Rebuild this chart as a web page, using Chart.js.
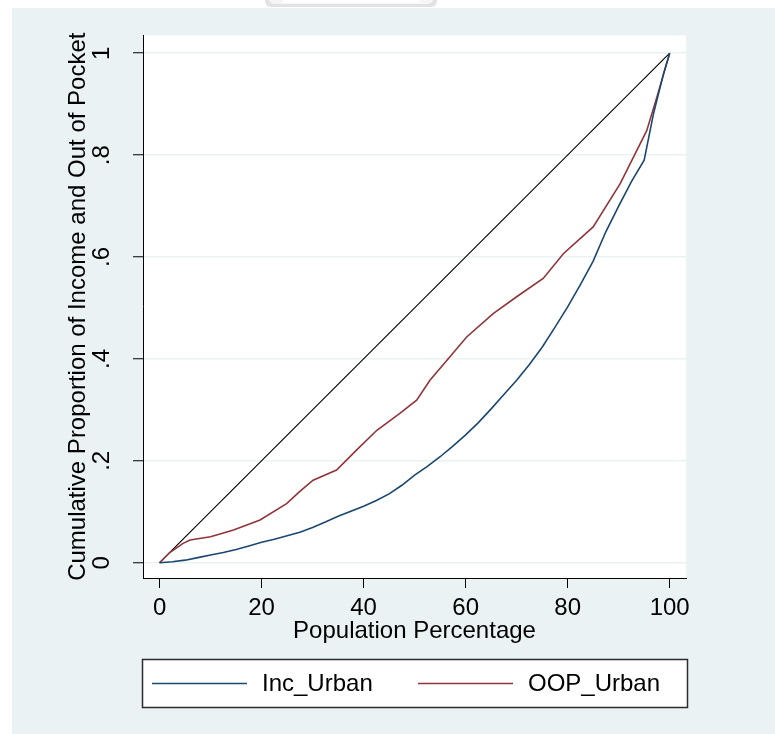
<!DOCTYPE html>
<html><head><meta charset="utf-8">
<script src="https://cdn.jsdelivr.net/npm/chart.js@4.4.1/dist/chart.umd.min.js"></script>
<style>html,body{margin:0;padding:0;background:#fff;}canvas{display:block;}</style>
</head><body>
<canvas id="c" width="775" height="734"></canvas>
<script>
// ---- data ----
const xTickValues = [0, 20, 40, 60, 80, 100];
const xTickLabels = ['0', '20', '40', '60', '80', '100'];
const yTickValues = [0, 0.2, 0.4, 0.6, 0.8, 1];
const yTickLabels = ['0', '.2', '.4', '.6', '.8', '1'];
const seriesNames = ['Inc_Urban', 'OOP_Urban'];

const incPct   = [0, 2.5, 5, 7.5, 10, 12.5, 15, 17.5, 20, 22.5, 25, 27.5, 30, 32.5, 35, 37.5, 40, 42.5, 45, 47.5, 50, 52.5, 55, 57.5, 60, 62.5, 65, 67.5, 70, 72.5, 75, 77.5, 80, 82.5, 85, 87.5, 90, 92.5, 95, 96.8, 98.8, 100];
const incShare = [0, 0.002, 0.005, 0.01, 0.015, 0.02, 0.026, 0.033, 0.04, 0.046, 0.053, 0.06, 0.069, 0.08, 0.091, 0.101, 0.111, 0.122, 0.135, 0.152, 0.172, 0.189, 0.208, 0.229, 0.251, 0.275, 0.302, 0.33, 0.358, 0.389, 0.423, 0.462, 0.502, 0.546, 0.592, 0.65, 0.7, 0.748, 0.79, 0.88, 0.96, 1];

const oopPct   = [0, 2, 4.6, 6, 10, 14.5, 19.7, 24.9, 27.5, 30.1, 34.7, 38.6, 42.6, 47.1, 50.4, 53, 56.3, 60.2, 65.4, 70, 75.2, 79.2, 85, 90.3, 95.5, 97.5, 100];
const oopShare = [0, 0.02, 0.038, 0.0445, 0.051, 0.064, 0.084, 0.116, 0.14, 0.162, 0.182, 0.221, 0.26, 0.293, 0.319, 0.358, 0.397, 0.443, 0.489, 0.522, 0.558, 0.607, 0.659, 0.744, 0.848, 0.914, 1];

const equalityPct   = [0, 100];
const equalityShare = [0, 1];

// ---- helpers ----
const toXY = (xs, ys) => xs.map((x, i) => ({x: x, y: ys[i]}));
const FONT = "'Liberation Sans', Arial, sans-serif";
const BG = '#eaf2f3';

const bgPlugin = {
  id: 'bgPlugin',
  beforeDraw(chart) {
    const ctx = chart.ctx, a = chart.chartArea;
    ctx.save();
    ctx.fillStyle = '#ffffff';
    ctx.fillRect(0, 0, chart.width, chart.height);
    ctx.fillStyle = BG;
    ctx.fillRect(12, 8, chart.width - 12, chart.height - 8);
    // faint tab at top
    ctx.fillStyle = '#e2e2e2';
    ctx.beginPath();
    ctx.roundRect(265, -10, 172, 17, 6);
    ctx.fill();
    ctx.fillStyle = '#f6f6f6';
    ctx.beginPath();
    ctx.roundRect(269, -10, 164, 14, 5);
    ctx.fill();
    ctx.fillStyle = '#ffffff';
    ctx.fillRect(283, 0, 137, 3);
    // plot region
    ctx.fillStyle = '#ffffff';
    ctx.fillRect(a.left, a.top, a.right - a.left, a.bottom - a.top);
    ctx.restore();
  }
};

const legendPlugin = {
  id: 'boxLegend',
  afterDraw(chart) {
    const ctx = chart.ctx;
    const items = chart.data.datasets.filter(d => d.inLegend);
    const box = {x: 142.5, y: 659.5, w: 545, h: 48};
    ctx.save();
    ctx.fillStyle = '#ffffff';
    ctx.fillRect(box.x, box.y, box.w, box.h);
    ctx.strokeStyle = '#2b2b2b';
    ctx.lineWidth = 1.5;
    ctx.strokeRect(box.x, box.y, box.w, box.h);
    const cy = box.y + box.h / 2;
    const starts = [152, 418];
    ctx.font = '24px ' + FONT;
    ctx.textBaseline = 'middle';
    ctx.textAlign = 'left';
    items.forEach((d, i) => {
      const x0 = starts[i];
      ctx.strokeStyle = d.borderColor;
      ctx.lineWidth = 1.6;
      ctx.beginPath();
      ctx.moveTo(x0, cy);
      ctx.lineTo(x0 + 95, cy);
      ctx.stroke();
      ctx.fillStyle = '#000';
      ctx.fillText(d.label, x0 + 110, cy + 1);
    });
    ctx.restore();
  }
};

new Chart(document.getElementById('c'), {
  type: 'line',
  data: {
    datasets: [
      {label: seriesNames[0], data: toXY(incPct, incShare), borderColor: '#1a476f', borderWidth: 1.6, pointRadius: 0, tension: 0, fill: false, inLegend: true},
      {label: seriesNames[1], data: toXY(oopPct, oopShare), borderColor: '#90353b', borderWidth: 1.6, pointRadius: 0, tension: 0, fill: false, inLegend: true},
      {label: 'Equality', data: toXY(equalityPct, equalityShare), borderColor: '#000000', borderWidth: 1.1, pointRadius: 0, tension: 0, fill: false, inLegend: false}
    ]
  },
  options: {
    responsive: false,
    animation: false,
    devicePixelRatio: 1,
    layout: {padding: {top: 35, right: 89, left: 0, bottom: 0}},
    plugins: {legend: {display: false}, tooltip: {enabled: false}},
    scales: {
      x: {
        type: 'linear', min: -3.25, max: 103.2,
        afterFit(s) { s.height = 156; },
        afterBuildTicks(s) { s.ticks = xTickValues.map(v => ({value: v})); },
        grid: {drawOnChartArea: false, color: '#000', tickColor: '#000', tickLength: 10, tickWidth: 1},
        border: {display: true, color: '#000', width: 1},
        ticks: {
          autoSkip: false, maxRotation: 0, minRotation: 0, padding: 6, color: '#000',
          font: {family: FONT, size: 24},
          callback(v) { const i = xTickValues.indexOf(v); return i >= 0 ? xTickLabels[i] : ''; }
        },
        title: {display: true, text: 'Population Percentage', color: '#000', font: {family: FONT, size: 24}, padding: {top: 0, bottom: 88}}
      },
      y: {
        type: 'linear', min: -0.03, max: 1.035,
        afterFit(s) { s.width = 143; },
        afterBuildTicks(s) { s.ticks = yTickValues.map(v => ({value: v})); },
        grid: {drawOnChartArea: true, color: BG, lineWidth: 1.5, tickColor: '#000', tickLength: 10, tickWidth: 1},
        border: {display: true, color: '#000', width: 1},
        ticks: {
          autoSkip: false, minRotation: 90, maxRotation: 90, crossAlign: 'center', padding: 21, color: '#000',
          font: {family: FONT, size: 24},
          callback(v) { const i = yTickValues.indexOf(v); return i >= 0 ? yTickLabels[i] : ''; }
        },
        title: {display: true, text: 'Cumulative Proportion of Income and Out of Pocket', color: '#000', font: {family: FONT, size: 24}, padding: {top: 64, bottom: 0}}
      }
    }
  },
  plugins: [bgPlugin, legendPlugin]
});
</script>
</body></html>
